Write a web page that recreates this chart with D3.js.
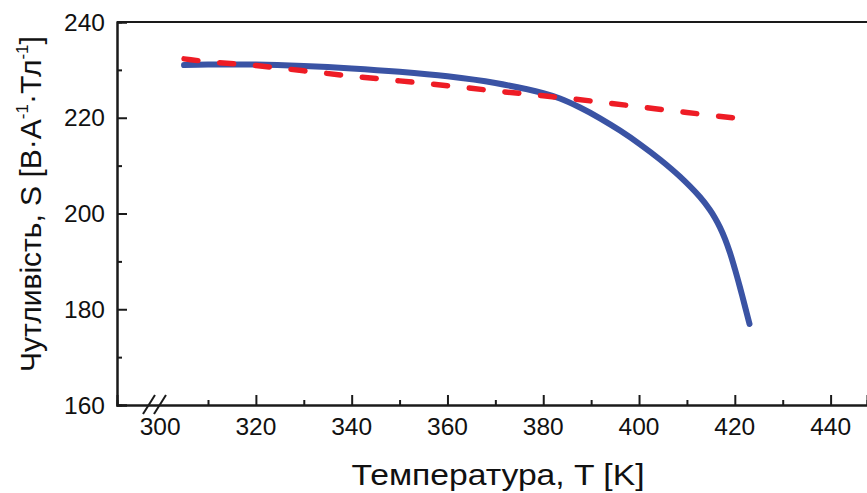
<!DOCTYPE html>
<html><head><meta charset="utf-8">
<script src="https://cdn.jsdelivr.net/npm/d3@7"></script>
<style>body{margin:0;background:#fff}svg{display:block}text{font-family:"Liberation Sans",Arial,sans-serif;fill:#111}</style>
</head><body>
<svg id="c" width="867" height="493"></svg>
<script>
const blueT = [305,310,320,330,340,350,360,370,380,383.5,387.68,391.86,396.03,400.21,404.38,408.56,412.73,414.82,415.86,416.9,417.95,418.99,420.03,421.08,422.12,423.07];
const blueS = [231.0,231.1,231.1,230.8,230.3,229.6,228.65,227.25,225.15,224.02,222.14,219.89,217.32,214.45,211.28,207.69,203.43,200.72,199.07,197.11,194.72,191.8,188.35,184.57,180.6,176.92];
const redT = [305,310,320,330,340,350,360,370,380,390,400,410,419.5];
const redS = [232.3,231.7,230.9,229.8,228.7,227.7,226.7,225.6,224.6,223.5,222.3,221.1,220.0];
const xTicks = [300,320,340,360,380,400,420,440];
const xMinor = [310,330,350,370,390,410,430];
const yTicks = [160,180,200,220,240];
const yMinor = [170,190,210,230];

const svg = d3.select("#c");
const L = 117, T = 22, B = 405, R = 867;
const x = d3.scaleLinear().domain([291, 447.6]).range([L, R]);
const y = d3.scaleLinear().domain([160, 240]).range([B, T]);
const ax = "#1a1a1a";

svg.append("line").attr("x1",L).attr("x2",R).attr("y1",T).attr("y2",T).attr("stroke",ax).attr("stroke-width",2);

const gx = svg.append("g").attr("transform",`translate(0,${B})`)
  .call(d3.axisBottom(x).tickValues(xTicks.filter(v=>v!==300)).tickSize(-10).tickFormat(""));
gx.append("g").call(d3.axisBottom(x).tickValues(xMinor).tickSize(-5).tickFormat(""));
gx.selectAll("path.domain").attr("stroke",ax).attr("stroke-width",2);
gx.selectAll(".tick line").attr("stroke",ax).attr("stroke-width",2);
svg.selectAll(".xl").data(xTicks).enter().append("text").attr("class","xl")
  .attr("x",d=>x(d)).attr("y",435).attr("text-anchor","middle").attr("font-size",24.5).text(d=>d);

const gy = svg.append("g").attr("transform",`translate(${L},0)`)
  .call(d3.axisLeft(y).tickValues(yTicks).tickSize(-10).tickFormat(""));
gy.append("g").call(d3.axisLeft(y).tickValues(yMinor).tickSize(-5).tickFormat(""));
gy.selectAll("path.domain").attr("stroke",ax).attr("stroke-width",2);
gy.selectAll(".tick line").attr("stroke",ax).attr("stroke-width",2);
svg.selectAll(".yl").data(yTicks).enter().append("text").attr("class","yl")
  .attr("x",105).attr("y",d=>y(d)+8.5).attr("text-anchor","end").attr("font-size",24.5).text(d=>d);

[0,11].forEach(o=>{
  svg.append("line").attr("x1",143+o).attr("y1",414).attr("x2",155+o).attr("y2",395)
    .attr("stroke",ax).attr("stroke-width",2);
});

const line = d3.line().x(d=>x(d[0])).y(d=>y(d[1])).curve(d3.curveCatmullRom.alpha(0.5));
svg.append("path").datum(blueT.map((t,i)=>[t,blueS[i]])).attr("d",line)
  .attr("fill","none").attr("stroke","#3a53a4").attr("stroke-width",6).attr("stroke-linecap","round");
const red = svg.append("path").datum(redT.map((t,i)=>[t,redS[i]])).attr("d",line)
  .attr("fill","none").attr("stroke","#ee1c25").attr("stroke-width",5.5).attr("stroke-linecap","round");
const len = red.node().getTotalLength();
const dash = 14, n = Math.round((len - dash) / 35), per = (len - dash) / n;
red.attr("stroke-dasharray", `${dash},${per - dash}`);

svg.append("text").attr("x",498).attr("y",485).attr("text-anchor","middle").attr("font-size",30)
  .attr("textLength",293).attr("lengthAdjust","spacingAndGlyphs")
  .text("Температура, T [K]");
const yt = svg.append("text").attr("transform","translate(41,204) rotate(-90)").attr("text-anchor","middle").attr("font-size",30);
yt.append("tspan").text("Чутливість, S [В·А");
yt.append("tspan").attr("font-size",17).attr("dy",-13).text("-1");
yt.append("tspan").attr("dy",13).text("·Тл");
yt.append("tspan").attr("font-size",17).attr("dy",-13).text("-1");
yt.append("tspan").attr("dy",13).text("]");
</script>
</body></html>
